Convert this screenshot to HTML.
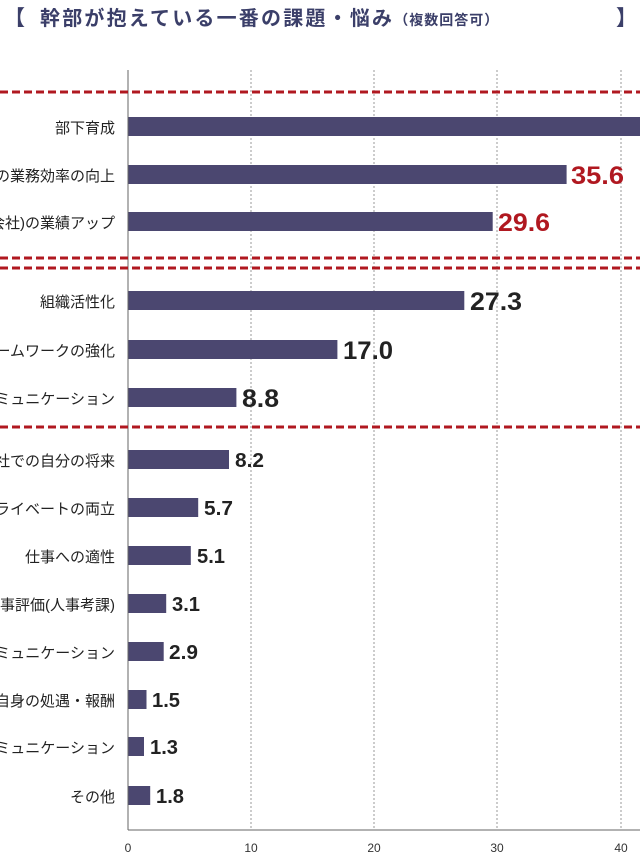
<!DOCTYPE html>
<html><head><meta charset="utf-8"><style>
html,body{margin:0;padding:0;background:#fff;width:640px;height:853px;overflow:hidden}
svg text{font-family:"Liberation Sans","Noto Sans CJK JP",sans-serif}
</style></head><body>
<svg width="640" height="853" viewBox="0 0 640 853" xmlns="http://www.w3.org/2000/svg">
<text x="4" y="25" font-size="21" font-weight="bold" fill="#3b3f69">【</text>
<text x="40" y="25" font-size="20" font-weight="bold" fill="#3b3f69" letter-spacing="2.2">幹部が抱えている一番の課題・悩み<tspan font-size="14" letter-spacing="1">（複数回答可）</tspan></text>
<text x="616" y="25" font-size="21" font-weight="bold" fill="#3b3f69">】</text>
<g stroke="#999" stroke-width="1" stroke-dasharray="2,2">
<line x1="251" y1="70" x2="251" y2="830"/><line x1="374" y1="70" x2="374" y2="830"/><line x1="497" y1="70" x2="497" y2="830"/><line x1="621" y1="70" x2="621" y2="830"/>
</g>
<g fill="#4b4770">
<rect x="128" y="117" width="520" height="19"/>
<rect x="128" y="165" width="438.6" height="19"/>
<rect x="128" y="212" width="364.7" height="19"/>
<rect x="128" y="291" width="336.3" height="19"/>
<rect x="128" y="340" width="209.4" height="19"/>
<rect x="128" y="388" width="108.4" height="19"/>
<rect x="128" y="450" width="101" height="19"/>
<rect x="128" y="498" width="70.2" height="19"/>
<rect x="128" y="546" width="62.8" height="19"/>
<rect x="128" y="594" width="38.2" height="19"/>
<rect x="128" y="642" width="35.7" height="19"/>
<rect x="128" y="690" width="18.5" height="19"/>
<rect x="128" y="737" width="16" height="19"/>
<rect x="128" y="786" width="22.2" height="19"/>
</g>
<line x1="128" y1="70" x2="128" y2="830" stroke="#666" stroke-width="1"/>
<line x1="128" y1="830" x2="640" y2="830" stroke="#666" stroke-width="1"/>
<g stroke="#b01820" stroke-width="3" stroke-dasharray="8,4">
<line x1="0" y1="92" x2="640" y2="92"/><line x1="0" y1="258" x2="640" y2="258"/><line x1="0" y1="268" x2="640" y2="268"/><line x1="0" y1="427" x2="640" y2="427"/>
</g>
<g font-size="15" fill="#222" text-anchor="end">
<text x="115" y="133">部下育成</text>
<text x="115" y="181">チームの業務効率の向上</text>
<text x="115" y="228">組織(会社)の業績アップ</text>
<text x="115" y="307">組織活性化</text>
<text x="115" y="356">チームワークの強化</text>
<text x="115" y="404">上司とのコミュニケーション</text>
<text x="115" y="466">会社での自分の将来</text>
<text x="115" y="514">仕事とプライベートの両立</text>
<text x="115" y="562">仕事への適性</text>
<text x="115" y="610">人事評価(人事考課)</text>
<text x="115" y="658">部下とのコミュニケーション</text>
<text x="115" y="706">自分自身の処遇・報酬</text>
<text x="115" y="753">同僚とのコミュニケーション</text>
<text x="115" y="802">その他</text>
</g>
<g font-weight="bold" font-size="25" fill="#b01820">
<text x="571" y="184" textLength="53" lengthAdjust="spacingAndGlyphs">35.6</text>
<text x="498" y="231" textLength="52" lengthAdjust="spacingAndGlyphs">29.6</text>
</g>
<g font-weight="bold" font-size="25" fill="#222">
<text x="470" y="310" textLength="52" lengthAdjust="spacingAndGlyphs">27.3</text>
<text x="343" y="359" textLength="50" lengthAdjust="spacingAndGlyphs">17.0</text>
<text x="242" y="407" textLength="37" lengthAdjust="spacingAndGlyphs">8.8</text>
</g>
<g font-weight="bold" font-size="20" fill="#222">
<text x="235" y="467" textLength="29" lengthAdjust="spacingAndGlyphs">8.2</text>
<text x="204" y="515" textLength="29" lengthAdjust="spacingAndGlyphs">5.7</text>
<text x="197" y="563" textLength="28" lengthAdjust="spacingAndGlyphs">5.1</text>
<text x="172" y="611" textLength="28" lengthAdjust="spacingAndGlyphs">3.1</text>
<text x="169" y="659" textLength="29" lengthAdjust="spacingAndGlyphs">2.9</text>
<text x="152" y="707" textLength="28" lengthAdjust="spacingAndGlyphs">1.5</text>
<text x="150" y="754" textLength="28" lengthAdjust="spacingAndGlyphs">1.3</text>
<text x="156" y="803" textLength="28" lengthAdjust="spacingAndGlyphs">1.8</text>
</g>
<g font-size="12" fill="#333" text-anchor="middle">
<text x="128" y="852">0</text><text x="251" y="852">10</text><text x="374" y="852">20</text><text x="497" y="852">30</text><text x="621" y="852">40</text>
</g>
</svg>
</body></html>
